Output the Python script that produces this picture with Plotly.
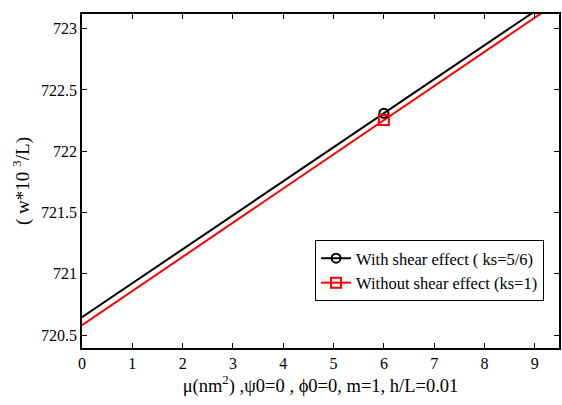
import plotly.graph_objects as go

# Frequency parameter vs nonlocal parameter mu
mu = [0, 2, 4, 6, 8, 9.5]
w_shear = [720.645, 721.200, 721.755, 722.310, 722.865, 723.281]
w_no_shear = [720.580, 721.138, 721.696, 722.254, 722.812, 723.230]

mark_x = [6]
mark_shear = [722.310]
mark_no_shear = [722.254]

x_ticks = [0, 1, 2, 3, 4, 5, 6, 7, 8, 9]
y_ticks = [720.5, 721, 721.5, 722, 722.5, 723]
y_tick_text = ["720.5", "721", "721.5", "722", "722.5", "723"]

FONT = "Liberation Serif"

fig = go.Figure()

fig.add_trace(go.Scatter(x=mu, y=w_shear, mode="lines",
                         line=dict(color="black", width=2), showlegend=False))
fig.add_trace(go.Scatter(x=mu, y=w_no_shear, mode="lines",
                         line=dict(color="red", width=2), showlegend=False))
fig.add_trace(go.Scatter(x=mark_x, y=mark_shear, mode="lines+markers",
                         name="With shear effect ( ks=5/6)",
                         line=dict(color="black", width=2),
                         marker=dict(symbol="circle-open", size=9, color="black",
                                     line=dict(width=2))))
fig.add_trace(go.Scatter(x=mark_x, y=mark_no_shear, mode="lines+markers",
                         name="Without shear effect (ks=1)",
                         line=dict(color="red", width=2),
                         marker=dict(symbol="square-open", size=10, color="red",
                                     line=dict(width=2))))

axis_common = dict(showgrid=False, zeroline=False, showline=True, linecolor="black",
                   linewidth=1.5, mirror="ticks", ticks="inside", ticklen=5,
                   tickcolor="black", tickwidth=1,
                   tickfont=dict(family=FONT, size=16, color="black"))

fig.update_xaxes(range=[0, 9.48], tickvals=x_ticks,
                 title=dict(text="μ(nm<sup>2</sup>) ,ψ0=0 , ϕ0=0, m=1, h/L=0.01",
                            font=dict(family=FONT, size=18.5, color="black"), standoff=4),
                 **axis_common)
fig.update_yaxes(range=[720.394, 723.12], tickvals=y_ticks, ticktext=y_tick_text,
                 title=dict(text="( w*10 <sup>3</sup>/L)",
                            font=dict(family=FONT, size=19, color="black"), standoff=6),
                 **axis_common)

fig.update_layout(
    width=562, height=405,
    margin=dict(l=82, r=1, t=14, b=57),
    plot_bgcolor="white", paper_bgcolor="white",
    legend=dict(x=0.9687, y=0.1407, xanchor="right", yanchor="bottom",
                bgcolor="white", bordercolor="black", borderwidth=1,
                font=dict(family=FONT, size=16.5, color="black"),
                tracegroupgap=0),
)

fig.write_html("out.html")
